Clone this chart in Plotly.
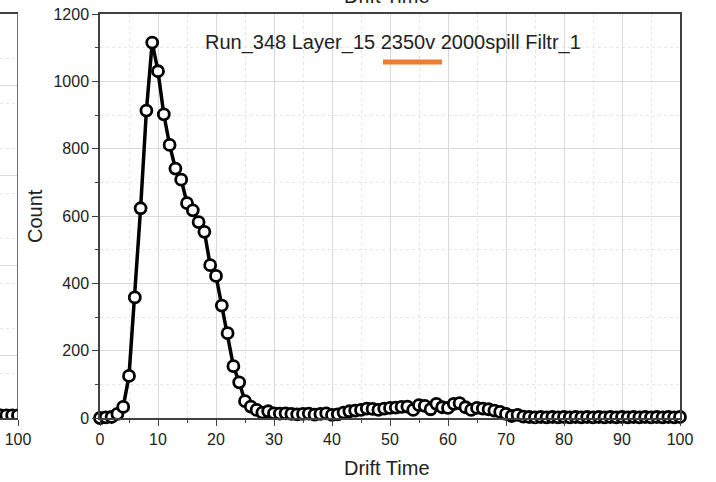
import plotly.graph_objects as go

# Drift time histogram, Run_348 Layer_15
drift_time = list(range(0, 101))
counts = [0, 2, 3, 12, 33, 125, 358, 623, 913, 1115,
          1030, 902, 811, 741, 708, 638, 617, 582, 553, 454,
          422, 334, 252, 154, 106, 50, 34, 24, 16, 20,
          14, 13, 14, 12, 11, 12, 13, 10, 12, 14,
          9, 11, 16, 20, 22, 24, 28, 27, 24, 28,
          30, 31, 33, 34, 24, 38, 36, 26, 42, 32,
          30, 42, 44, 32, 24, 30, 28, 26, 22, 18,
          12, 6, 9, 4, 3, 2, 3, 2, 3, 2,
          3, 2, 3, 2, 3, 2, 3, 2, 3, 2,
          3, 2, 3, 2, 3, 2, 3, 2, 3, 2, 3]

# neighbouring panel, only its right edge is in view
left_x = [97, 98, 99, 100]
left_y = [0.03, 0.03, 0.03, 0.03]

title_text = "Run_348 Layer_15 2350v 2000spill Filtr_1"

W, H = 716, 482
PW, PH = 680, 404  # paper size inside margins
PL = 100 / PW      # main plot left edge (paper)

fig = go.Figure()

fig.add_trace(go.Scatter(
    x=drift_time, y=counts, mode="lines+markers",
    line=dict(color="black", width=3.5),
    marker=dict(symbol="circle", size=11, color="white",
                line=dict(color="black", width=2.8)),
    cliponaxis=False, showlegend=False))

fig.add_trace(go.Scatter(
    x=left_x, y=left_y, mode="lines+markers", xaxis="x2", yaxis="y2",
    line=dict(color="black", width=3.5),
    marker=dict(symbol="circle", size=11, color="white",
                line=dict(color="black", width=2.8)),
    cliponaxis=True, showlegend=False))

axis_line = "#404040"
grid = "#d9d9d9"
minor_grid = "#e6e6e6"
tickfont = dict(family="Liberation Sans, Arial", size=16, color="#222")

fig.update_layout(
    width=W, height=H,
    margin=dict(l=0, r=36, t=14, b=64, autoexpand=False),
    plot_bgcolor="white", paper_bgcolor="white",
    font=dict(family="Liberation Sans, Arial", color="#222"),
    xaxis=dict(domain=[PL, 1], range=[0, 100], dtick=10, tick0=0,
               showline=True, linecolor=axis_line, linewidth=1.5, mirror=True,
               ticks="outside", ticklen=6, tickcolor=axis_line, tickwidth=1.2,
               showgrid=True, gridcolor=grid, gridwidth=1,
               minor=dict(dtick=5, ticks="outside", ticklen=3, tickcolor=axis_line,
                          showgrid=True, gridcolor=minor_grid, griddash="dot"),
               zeroline=False, tickfont=tickfont, automargin=False),
    yaxis=dict(range=[0, 1200], dtick=200, tick0=0,
               showline=True, linecolor=axis_line, linewidth=1.5, mirror=True,
               ticks="outside", ticklen=6, tickcolor=axis_line, tickwidth=1.2,
               showgrid=True, gridcolor=grid, gridwidth=1,
               minor=dict(dtick=100, ticks="outside", ticklen=3, tickcolor=axis_line,
                          showgrid=True, gridcolor=minor_grid, griddash="dot"),
               zeroline=False, tickfont=tickfont, automargin=False),
    xaxis2=dict(domain=[0, 18 / PW], range=[96.9, 100], anchor="y2",
                tickvals=[100], ticktext=["100"],
                showline=True, linecolor=axis_line, linewidth=1.5, mirror=True,
                ticks="outside", ticklen=6, tickcolor=axis_line,
                showgrid=False, zeroline=False, tickfont=tickfont, automargin=False),
    yaxis2=dict(domain=[0, 1], range=[0, 4.49], anchor="x2", side="right",
                tick0=0.7, dtick=1, showticklabels=False,
                showline=False, ticks="",
                showgrid=True, gridcolor=grid, gridwidth=1,
                minor=dict(dtick=0.5, showgrid=True, gridcolor=minor_grid, griddash="dot"),
                zeroline=False, automargin=False),
)

# right edge of neighbouring panel
fig.add_shape(type="line", xref="x2", yref="y2 domain", x0=100, x1=100, y0=0, y1=1,
              line=dict(color=axis_line, width=1.5))

# legend-like orange bar under the title
fig.add_shape(type="line", xref="paper", yref="paper",
              x0=383 / PW, x1=442 / PW, y0=(418 - 62) / PH, y1=(418 - 62) / PH,
              line=dict(color="#ED7D31", width=5))


def label(text, x, y, size=20, angle=0):
    # x, y in page pixels
    fig.add_annotation(text=text, xref="paper", yref="paper",
                       x=x / PW, y=(418 - y) / PH, xanchor="center", yanchor="middle",
                       showarrow=False, textangle=angle,
                       font=dict(size=size, color="#222"))


label(title_text, 393, 43)
label("Drift Time", 387, 468)
label("Drift Time", 387, -4)
label("Count", 35, 216, angle=-90)

fig.write_html("out.html", config={"displayModeBar": False},
               post_script="document.body.style.margin='0';")
